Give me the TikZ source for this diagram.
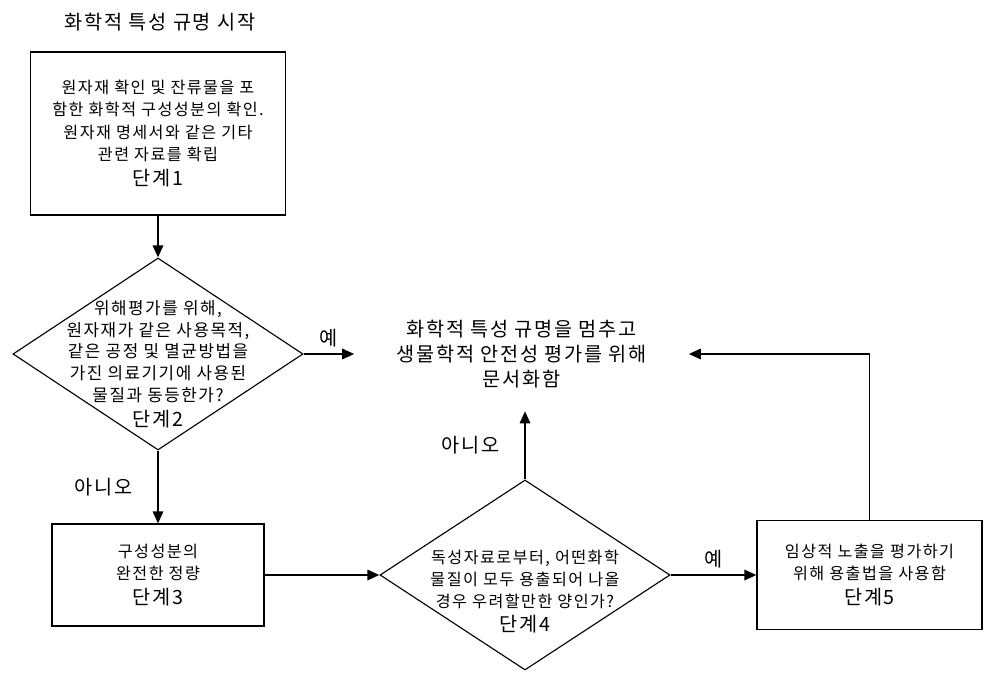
\documentclass[tikz,border=0pt]{standalone}
\usepackage{fontspec}
\setmainfont[LetterSpace=9]{Noto Sans CJK KR}
\usetikzlibrary{shapes.geometric,arrows.meta,positioning}
\tikzset{
	box/.style={draw,line width=.8pt,inner sep=0pt,align=center,font=\fontsize{11.5}{16}\selectfont},
	dia/.style={draw,diamond,line width=.8pt,inner sep=0pt},
	txt/.style={align=center,font=\fontsize{11.5}{15.5}\selectfont},
	lbl/.style={font=\fontsize{14}{17.7}\selectfont},
	arr/.style={line width=1.4pt,-{Triangle[length=3mm,width=2.6mm]}}
}
\newcommand{\stepno}[1]{\\[2pt]{\fontsize{14}{15}\selectfont 단계#1}}
\begin{document}
\begin{tikzpicture}[x=.025cm,y=-.025cm]
			\useasboundingbox (0,0) rectangle (1006,684);
			%etapas%
			\node[lbl] (ini) at (160,22) {화학적 특성 규명 시작};
			\node[box,minimum width=6.375cm,minimum height=4.075cm] (s1) at (158,133.5)
			{원자재 확인 및 잔류물을 포\\함한 화학적 구성성분의 확인.\\원자재 명세서와 같은 기타\\관련 자료를 확립\stepno{1}};
			\node[dia,minimum width=7.25cm,minimum height=4.8cm] (s2) at (158,354) {};
			\node[txt,font=\fontsize{12}{15.5}\selectfont] (t2) at ([yshift=-.25cm]s2.center)
			{위해평가를 위해,\\원자재가 같은 사용목적,\\같은 공정 및 멸균방법을\\가진 의료기기에 사용된\\물질과 동등한가?\stepno{2}};
			\node[box,minimum width=5.3cm,minimum height=2.55cm] (s3) at (158,575)
			{구성성분의\\완전한 정량\stepno{3}};
			\node[dia,minimum width=7.25cm,minimum height=4.75cm] (s4) at (525,575) {};
			\node[txt] (t4) at ([yshift=-.42cm]s4.center)
			{독성자료로부터, 어떤화학\\물질이 모두 용출되어 나올\\경우 우려할만한 양인가?\stepno{4}};
			\node[box,minimum width=5.625cm,minimum height=2.725cm] (s5) at (869.5,575)
			{임상적 노출을 평가하기\\위해 용출법을 사용함\stepno{5}};
			\node[lbl,align=center,minimum width=8.35cm,minimum height=2.85cm] (fim) at (521.5,354)
			{화학적 특성 규명을 멈추고\\생물학적 안전성 평가를 위해\\문서화함};
			%setas%
			\draw[arr] (s1) -- (s2);
			\draw[arr] (s2) -- (fim) node[midway,above=1pt,lbl] {예};
			\draw[arr] (s2) -- (s3) node[midway,left=.5cm,lbl] {아니오};
			\draw[arr] (s3) -- (s4);
			\draw[arr] (s4) -- (s4 |- fim.south) node[midway,left=.5cm,lbl] {아니오};
			\draw[arr] (s4) -- (s5) node[midway,above=1pt,lbl] {예};
			\draw[arr] (s5) |- (fim);
\end{tikzpicture}
\end{document}
